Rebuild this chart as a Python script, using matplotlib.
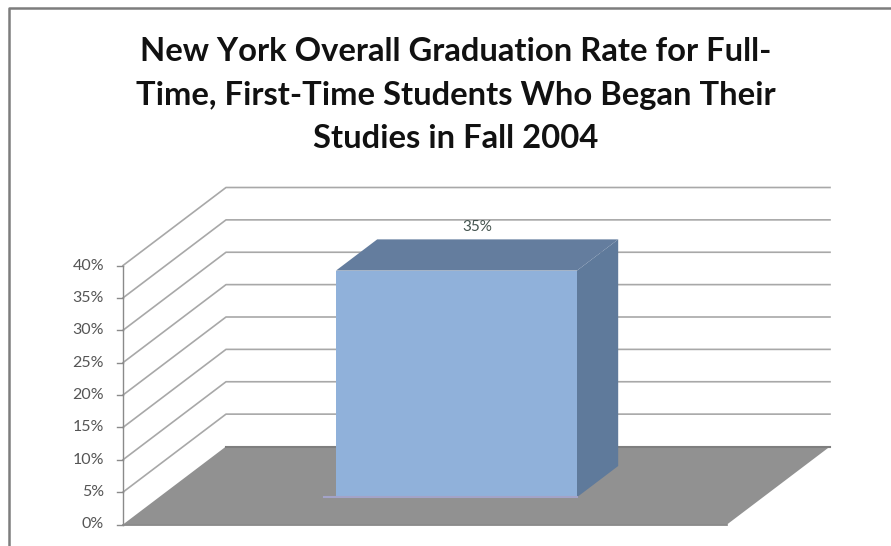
import matplotlib
matplotlib.use('Agg')
import matplotlib.pyplot as plt
from matplotlib.patches import Polygon

title = 'New York Overall Graduation Rate for Full-\nTime, First-Time Students Who Began Their\nStudies in Fall 2004'
ticks = [0, 5, 10, 15, 20, 25, 30, 35, 40]
tick_labels = ['0%', '5%', '10%', '15%', '20%', '25%', '30%', '35%', '40%']
values = [35]
value_labels = ['35%']

# layout, pixels
W, H = 891, 546
y0 = 524.5
px_per_pct = 6.475
left, right = 123, 727
dx, dy = 103, 78

plt.rcParams['font.family'] = ['Lato', 'DejaVu Sans']
fig = plt.figure(figsize=(W / 100, H / 100), dpi=100)
ax = fig.add_axes([0, 0, 1, 1])
# y axis in percent, x in pixels across the floor
ymin, ymax = -(H - y0) / px_per_pct, y0 / px_per_pct
ax.set_xlim(0, W)
ax.set_ylim(ymin, ymax)
ax.axis('off')

yshift = dy / px_per_pct


def depth(x, y, d):
    # d=0 front plane, d=1 back wall
    return x + dx * d, y + yshift * d


def ypix(p):
    return (y0 - p) / px_per_pct


# chart border, only top and left show
ax.plot([8.5, 8.5, W], [ymin, ypix(8), ypix(8)], color='#7d7d7d', lw=1.8, zorder=1)

# gridlines
for t in ticks[1:]:
    xb, yb = depth(left, t, 1)
    xr, yr = depth(right, t, 1)
    ax.plot([left, xb, xr], [t, yb, yr], color='#a8a8a8', lw=1.2, zorder=1)

# floor
ax.add_patch(Polygon([depth(left, 0, 0), depth(left, 0, 1), depth(right, 0, 1), depth(right, 0, 0)],
                     fc='#919191', ec='none', zorder=2))
ax.plot([depth(left, 0, 1)[0], depth(right, 0, 1)[0]], [yshift, yshift], color='#7f7f7f', lw=1.5, zorder=2)
ax.plot([left, right], [0, 0], color='#7f7f7f', lw=1.2, zorder=2)

# axis line and ticks
ax.plot([left, left], [0, 40], color='#8a8a8a', lw=1, zorder=3)
for t, lab in zip(ticks, tick_labels):
    ax.plot([left - 6, left], [t, t], color='#8a8a8a', lw=1, zorder=3)
    ax.text(104, t, lab, ha='right', va='center', fontsize=11.5, color='#555555')

# bar
d0, d1 = 0.35, 0.75
for v, lab in zip(values, value_labels):
    bl = 336 - dx * d0
    br = 577 - dx * d0
    f0 = depth(bl, 0, d0)
    f1 = depth(br, 0, d0)
    ft0 = depth(bl, v, d0)
    ft1 = depth(br, v, d0)
    b1 = depth(br, 0, d1)
    bt0 = depth(bl, v, d1)
    bt1 = depth(br, v, d1)
    ax.add_patch(Polygon([f1, b1, bt1, ft1], fc='#5f7a9b', ec='none', zorder=4))
    ax.add_patch(Polygon([ft0, bt0, bt1, ft1], fc='#647d9e', ec='none', zorder=4))
    ax.add_patch(Polygon([f0, f1, ft1, ft0], fc='#90b1da', ec='none', zorder=5))
    ax.plot([f0[0] - 12, f1[0]], [f0[1], f1[1]], color='#a3a3c8', lw=1.5, zorder=6)
    ax.text(477, ypix(227), lab, ha='center', va='center', fontsize=11, color='#44544f', zorder=6)

ax.text(456, ypix(95), title, ha='center', va='center', fontsize=23.6,
        fontweight='bold', color='#111111', linespacing=1.6)

fig.savefig('out.png', dpi=100)
